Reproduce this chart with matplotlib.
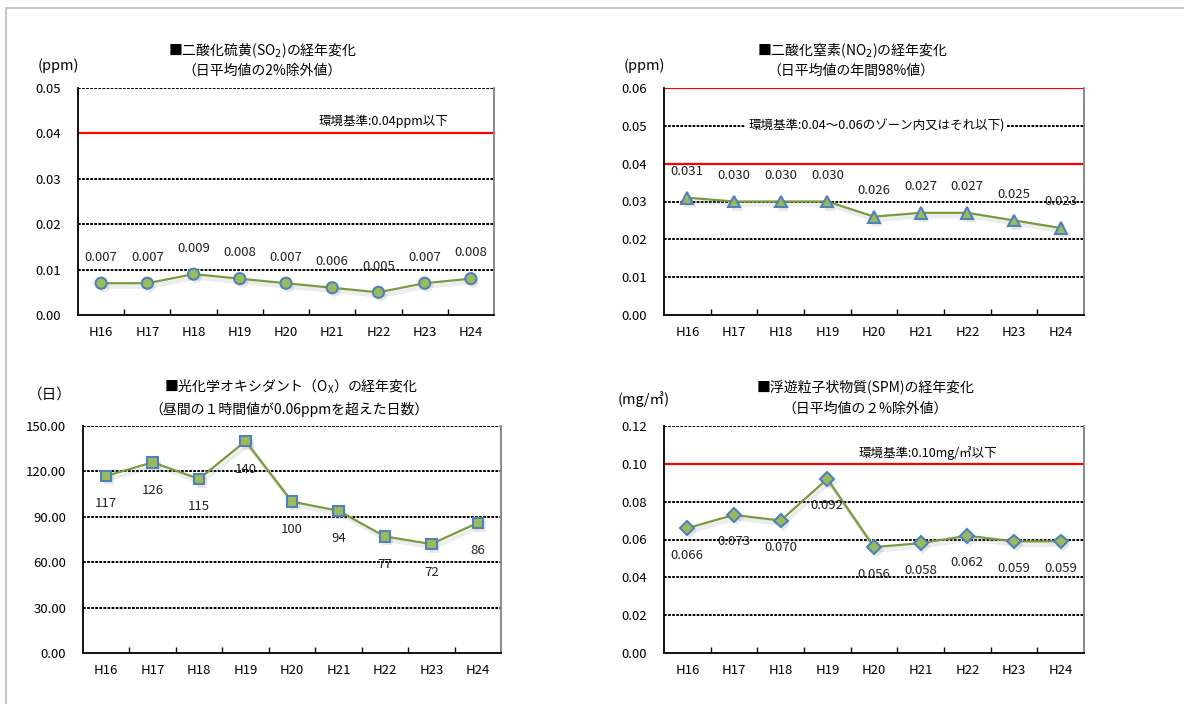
import numpy as np
import matplotlib
matplotlib.use("Agg")
import matplotlib.pyplot as plt
import matplotlib.patheffects as pe
from matplotlib.lines import Line2D
from matplotlib.ticker import FixedLocator, FormatStrFormatter

plt.rcParams["font.family"] = ["Noto Sans CJK JP", "DejaVu Sans"]
plt.rcParams["mathtext.fontset"] = "dejavusans"

# 年度
years = ["H16", "H17", "H18", "H19", "H20", "H21", "H22", "H23", "H24"]

# 二酸化硫黄 (ppm, 日平均値の2%除外値)
so2 = [0.007, 0.007, 0.009, 0.008, 0.007, 0.006, 0.005, 0.007, 0.008]
so2_std = [0.04]

# 二酸化窒素 (ppm, 日平均値の年間98%値)
no2 = [0.031, 0.030, 0.030, 0.030, 0.026, 0.027, 0.027, 0.025, 0.023]
no2_std = [0.04, 0.06]

# 光化学オキシダント (昼間の1時間値が0.06ppmを超えた日数)
ox = [117, 126, 115, 140, 100, 94, 77, 72, 86]

# 浮遊粒子状物質 (mg/m3, 日平均値の2%除外値)
spm = [0.066, 0.073, 0.070, 0.092, 0.056, 0.058, 0.062, 0.059, 0.059]
spm_std = [0.10]

W, H = 1184, 704
LINE_C = "#7A9A3E"
FILL_C = "#9BBB59"
EDGE_C = "#4F81BD"


def px(x, y):
    return x / W, 1 - y / H


def make_axes(fig, x0, y0, x1, y1):
    return fig.add_axes([x0 / W, 1 - y1 / H, (x1 - x0) / W, (y1 - y0) / H])


def draw_panel(ax, values, ymax, ystep, tick_fmt, marker, ms, label_fmt, label_dy,
               standards=()):
    x = np.arange(len(years))
    ticks = np.arange(0, ymax + ystep / 2, ystep)

    # 点線のグリッド
    for t in ticks[1:]:
        ax.axhline(t, color="black", lw=1.4, ls=(0, (1.4, 0.7)), zorder=1)
    # 環境基準の赤線
    for s in standards:
        ax.axhline(s, color="red", lw=1.6, zorder=2)

    # 折れ線とマーカー (うすい影付き)
    ax.plot(x, values, color=LINE_C, lw=1.6, zorder=3,
            path_effects=[pe.SimpleLineShadow(offset=(1.5, -2.5), shadow_color="gray",
                                              alpha=0.15, linewidth=3), pe.Normal()])
    ax.plot(x, values, ls="none", marker=marker, ms=ms, mfc=FILL_C, mec=EDGE_C,
            mew=1.5, zorder=4,
            path_effects=[pe.SimplePatchShadow(offset=(2, -2.5), shadow_rgbFace="gray",
                                               alpha=0.18), pe.Normal()])

    for xi, v in zip(x, values):
        ax.annotate(label_fmt.format(v), (xi, v), xytext=(0, label_dy),
                    textcoords="offset pixels", ha="center", va="center",
                    fontsize=9.5, color="#222222", zorder=5)

    ax.set_xlim(-0.5, len(years) - 0.5)
    ax.set_ylim(0, ymax)
    ax.set_xticks(x)
    ax.set_xticklabels(years)
    ax.xaxis.set_minor_locator(FixedLocator(np.arange(0.5, len(years) - 1, 1)))
    ax.tick_params(axis="x", which="major", length=0, pad=8, labelsize=9.5)
    ax.tick_params(axis="x", which="minor", direction="in", length=4, width=1)
    ax.set_yticks(ticks)
    ax.yaxis.set_major_formatter(FormatStrFormatter(tick_fmt))
    ax.tick_params(axis="y", length=0, pad=12, labelsize=9.5)

    ax.spines["top"].set_visible(False)
    ax.spines["left"].set_linewidth(1.3)
    ax.spines["bottom"].set_linewidth(1.3)
    ax.spines["right"].set_color("#808080")
    ax.spines["right"].set_linewidth(1.3)


fig = plt.figure(figsize=(W / 100, H / 100), dpi=100)

# 外枠
fig.add_artist(Line2D([6 / W, 1], [1 - 8 / H, 1 - 8 / H], color="#C8C8C8", lw=1.5))
fig.add_artist(Line2D([6 / W, 6 / W], [0, 1 - 8 / H], color="#C8C8C8", lw=1.5))

# 二酸化硫黄
ax1 = make_axes(fig, 78, 88, 494, 315)
draw_panel(ax1, so2, 0.05, 0.01, "%.2f", "o", 8, "{:.3f}", 26, so2_std)
ax1.text(6.1, 0.0427, "環境基準:0.04ppm以下", ha="center", va="center", fontsize=9)

# 二酸化窒素
ax2 = make_axes(fig, 664, 88, 1084, 315)
draw_panel(ax2, no2, 0.06, 0.01, "%.2f", "^", 8.5, "{:.3f}", 26, no2_std)
ax2.text(4.05, 0.05, "環境基準:0.04～0.06のゾーン内又はそれ以下)", ha="center",
         va="center", fontsize=9, zorder=3,
         bbox=dict(facecolor="white", edgecolor="none", pad=2))

# 光化学オキシダント
ax3 = make_axes(fig, 83, 426, 501, 653)
draw_panel(ax3, ox, 150, 30, "%.2f", "s", 7.5, "{:d}", -28)

# 浮遊粒子状物質
ax4 = make_axes(fig, 664, 426, 1084, 653)
draw_panel(ax4, spm, 0.12, 0.02, "%.2f", "D", 7, "{:.3f}", -27, spm_std)
ax4.text(5.16, 0.1058, "環境基準:0.10mg/㎥以下", ha="center", va="center", fontsize=9)

# タイトル
titles = [
    (263, 51, "■二酸化硫黄(SO$_2$)の経年変化"),
    (262, 71, "（日平均値の2%除外値）"),
    (852, 51, "■二酸化窒素(NO$_2$)の経年変化"),
    (851, 71, "（日平均値の年間98%値）"),
    (291, 387, "■光化学オキシダント（O$_\\mathregular{X}$）の経年変化"),
    (289, 409, "（昼間の１時間値が0.06ppmを超えた日数）"),
    (866, 387, "■浮遊粒子状物質(SPM)の経年変化"),
    (865, 409, "（日平均値の２%除外値）"),
]
for tx, ty, s in titles:
    fig.text(*px(tx, ty), s, ha="center", va="center", fontsize=10)

# 単位
units = [(58, 66, "(ppm)"), (644, 66, "(ppm)"), (50, 395, "（日）"), (644, 399, "(mg/㎥)")]
for tx, ty, s in units:
    fig.text(*px(tx, ty), s, ha="center", va="center", fontsize=10.5)

fig.savefig("out.png", dpi=100)
